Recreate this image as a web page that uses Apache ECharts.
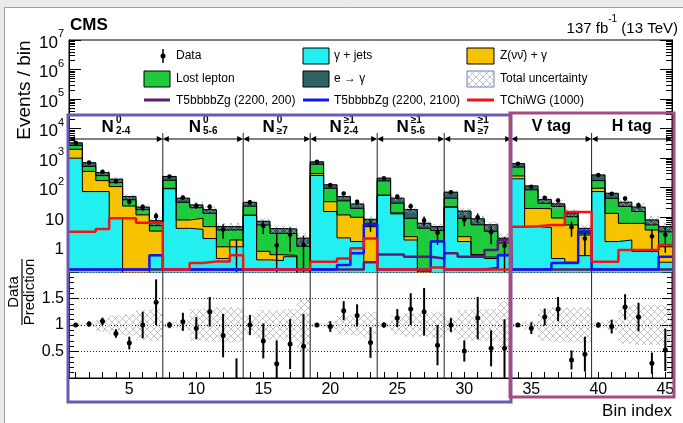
<!DOCTYPE html>
<html>
<head>
<meta charset="utf-8">
<script src="https://cdn.jsdelivr.net/npm/echarts@6.0.0/dist/echarts.min.js"></script>
<style>
html, body { margin: 0; padding: 0; background: #ebebeb; }
#chart { width: 683px; height: 423px; }
</style>
</head>
<body>
<div id="chart"></div>
<script>
// bin index 1..45
const bins = [1,2,3,4,5,6,7,8,9,10,11,12,13,14,15,16,17,18,19,20,21,22,23,24,25,26,27,28,29,30,31,32,33,34,35,36,37,38,39,40,41,42,43,44,45];

// background components (events / bin), stacked bottom -> top
const gammaJets = [1000,74,74,9.2,0.05,0.05,0.5, 92,4.2,3.9,1.9,0.4,1.0, 11.5,0.36,0.34,0.46,0.02, 260,15.6,2,1.5,0.3, 55,13,1.7,0.1,1.5, 22,1.5,0.5,0.4,0.5, 200,4.8,4.5,0.4,0.3,0.5, 74,1.5,1.7,0.7,0.7,0.3];
const zNuNu = [1000,281,100,100,24,12,2.9, 3,3.9,5.3,2.9,0.6,0.7, 0.3,0.34,0.2,0.05,0.02, 40,18,10,8.5,4.5, 1,1,0.5,0.05,0.05, 0.3,0.7,0.05,0.05,0.05, 50,15,15,9,5.2,2.0, 22,12,4.5,5.5,3,0.7];
const lostLepton = [700,170,83,40,15,6,1.8, 83,23.9,11.8,8.8,2.7,2.0, 12,4.8,2.3,2.3,1.0, 320,62,24,10,0.7, 114,16,7,4.1,2.0, 22,6.9,5,2.9,0.8, 250,65,10,14,4.9,0.4, 78,30,17,9.4,1.8,2.2];
const eToGamma = [600,175,68,45,11,4,2.4, 62,12,5,4.4,1.1,1.1, 8,1.8,1.3,1.2,0.9, 130,30,14,8,3, 40,14,9,2.0,1.3, 26,7,3.3,2.2,0.6, 150,30,10,5,3.2,1.3, 96,21,9,6.4,2.6,1.6];

// signal models
const t5Low = [0.1,0.1,0.1,0.1,0.1,0.1,0.1, 0.1,0.1,0.1,0.1,0.1,0.1, 0.1,0.1,0.1,0.1,0.1, 0.1,0.1,0.1,0.1,0.3, 0.55,0.55,0.46,0.46,0.4, 0.6,0.46,0.46,0.78,1.7, 0.1,0.1,0.1,0.1,0.1,0.1, 0.1,0.1,0.1,0.1,0.1,0.1];
const t5High = [0.1,0.1,0.1,0.1,0.1,0.1,0.52, 0.1,0.1,0.1,0.1,0.1,0.1, 0.1,0.1,0.1,0.1,0.1, 0.1,0.1,0.24,0.6,5.8, 0.1,0.1,0.1,0.1,1.5, 0.1,0.1,0.1,0.19,0.52, 0.1,0.1,0.1,0.28,0.28,3.3, 0.1,0.1,0.1,0.1,0.1,0.46];
const tChiWG = [3.2,3.2,4.0,9.2,9.2,6.5,6.5, 0.1,0.1,0.28,0.32,0.32,0.52, 0.1,0.1,0.1,0.1,0.1, 0.31,0.31,0.4,0.9,1.9, 0.1,0.1,0.1,0.1,0.2, 0.1,0.1,0.1,0.1,0.1, 4.8,5.0,5.5,5.5,15,15, 0.31,0.31,0.78,0.78,0.78,1.15];

// data / prediction and its error, total relative uncertainty of prediction
const ratio = [1.0,1.02,1.07,0.84,0.66,1.0,1.43, 1.0,1.06,0.94,1.25,0.8,0, 1.0,0.7,0.27,0.64,0.6, 1.0,0.97,1.27,1.18,0.67, 1.0,1.13,1.3,1.25,0.62, 1.0,0.51,1.13,0.56,0.56, 1.0,0.94,1.15,1.3,0.34,0.45, 1.0,0.97,1.34,1.15,0.28,0.53];
const ratioErr = [0.03,0.05,0.07,0.08,0.12,0.25,0.43, 0.06,0.17,0.21,0.28,0.41,0.37, 0.19,0.33,0.44,0.47,0.61, 0.04,0.1,0.18,0.21,0.29, 0.05,0.17,0.3,0.45,0.38, 0.13,0.2,0.4,0.34,0.55, 0.03,0.11,0.16,0.23,0.18,0.33, 0.05,0.13,0.24,0.27,0.2,0.4];
const totalUnc = [0.03,0.04,0.13,0.18,0.2,0.28,0.3, 0.05,0.1,0.3,0.32,0.33,0.33, 0.18,0.28,0.28,0.3,0.5, 0.04,0.08,0.18,0.2,0.25, 0.05,0.18,0.22,0.22,0.25, 0.15,0.28,0.3,0.3,0.45, 0.04,0.08,0.3,0.33,0.33,0.33, 0.05,0.1,0.35,0.38,0.38,0.38];

// search regions
const regionEdges = [0.5, 7.5, 13.5, 18.5, 23.5, 28.5, 33.5, 39.5, 45.5];
const regionMain = ['N','N','N','N','N','N','V tag','H tag'];
const regionSup = ['0','0','0','\u22651','\u22651','\u22651','',''];
const regionSub = ['2-4','5-6','\u22657','2-4','5-6','\u22657','',''];

const logTicks = [0,1,2,3,4,5,6,7];
const xLabels = [5,10,15,20,25,30,35,40,45];

const Y_MIN = Math.log10(0.14);
const Y_MAX = 7;
const FONT = '"Liberation Sans", Arial, sans-serif';

const compColors = ['#22f0f0', '#f7c300', '#1ecb3c', '#2f6262'];
const comps = [gammaJets, zNuNu, lostLepton, eToGamma];

function toLog(v) { return v > 0 ? Math.log10(v) : Y_MIN - 2; }
function clampLog(v) { return Math.max(Math.log10(v), Math.log10(0.17)); }
function stepData(vals, f) {
    const d = bins.map((b, i) => [b - 0.5, f(vals[i])]);
    d.push([bins[bins.length - 1] + 0.5, f(vals[vals.length - 1])]);
    return d;
}

function hatchPattern(color) {
    const c = document.createElement('canvas');
    c.width = 7; c.height = 7;
    const g = c.getContext('2d');
    g.strokeStyle = color; g.lineWidth = 0.7;
    g.beginPath();
    g.moveTo(0, 0); g.lineTo(7, 7);
    g.moveTo(7, 0); g.lineTo(0, 7);
    g.stroke();
    return { image: c, repeat: 'repeat' };
}
const hatch = hatchPattern('#a8a8a8');

function csRect(cs) { return { x: cs.x, y: cs.y, width: cs.width, height: cs.height }; }

function binRect(fill, stroke) {
    return function (params, api) {
        const p0 = api.coord([api.value(0) - 0.5, api.value(2)]);
        const p1 = api.coord([api.value(0) + 0.5, api.value(1)]);
        const shape = echarts.graphic.clipRectByRect(
            { x: p0[0], y: p0[1], width: p1[0] - p0[0], height: p1[1] - p0[1] }, csRect(params.coordSys));
        if (!shape) return;
        return { type: 'rect', shape: shape, style: { fill: fill, stroke: stroke, lineWidth: stroke ? 0.6 : 0 } };
    };
}

function renderPoint(yFloor, thick, r) {
    return function (params, api) {
        const cs = params.coordSys;
        const x = api.coord([api.value(0), 0])[0];
        const yLo = Math.min(api.coord([0, Math.max(api.value(2), yFloor)])[1], cs.y + cs.height);
        const yHi = Math.max(api.coord([0, api.value(3)])[1], cs.y);
        const children = [{ type: 'line', shape: { x1: x, y1: yLo, x2: x, y2: yHi }, style: { stroke: '#000', lineWidth: thick } }];
        if (api.value(1) > yFloor) {
            const y = api.coord([0, api.value(1)])[1];
            children.push({ type: 'circle', shape: { cx: x, cy: y, r: r }, style: { fill: '#000' } });
        }
        return { type: 'group', children: children };
    };
}

function renderRegion(params, api) {
    const i = params.dataIndex;
    const cs = params.coordSys;
    const xl = api.coord([api.value(0), Y_MAX])[0];
    const xr = api.coord([api.value(1), Y_MAX])[0];
    const ya = cs.y + 99;
    const yl = cs.y + 87;
    const cx = (xl + xr) / 2;
    const children = [
        { type: 'line', shape: { x1: xl + 4, y1: ya, x2: xr - 4, y2: ya }, style: { stroke: '#000', lineWidth: 1 } },
        { type: 'polygon', shape: { points: [[xl, ya], [xl + 6, ya - 3], [xl + 6, ya + 3]] }, style: { fill: '#000' } },
        { type: 'polygon', shape: { points: [[xr, ya], [xr - 6, ya - 3], [xr - 6, ya + 3]] }, style: { fill: '#000' } }
    ];
    if (i < regionMain.length - 1) {
        children.push({ type: 'line', shape: { x1: xr, y1: cs.y + 93, x2: xr, y2: cs.y + cs.height }, style: { stroke: '#222', lineWidth: 1 } });
    }
    if (regionSup[i]) {
        children.push({ type: 'text', x: cx - 2, y: yl, style: { text: regionMain[i], font: 'bold 17px ' + FONT, align: 'right', verticalAlign: 'middle', fill: '#000' } });
        children.push({ type: 'text', x: cx, y: yl - 7, style: { text: regionSup[i], font: 'bold 10px ' + FONT, align: 'left', verticalAlign: 'middle', fill: '#000' } });
        children.push({ type: 'text', x: cx, y: yl + 4, style: { text: regionSub[i], font: 'bold 10px ' + FONT, align: 'left', verticalAlign: 'middle', fill: '#000' } });
    } else {
        children.push({ type: 'text', x: cx, y: yl, style: { text: regionMain[i], font: 'bold 16px ' + FONT, align: 'center', verticalAlign: 'middle', fill: '#000' } });
    }
    return { type: 'group', children: children };
}

function renderSeparator(params, api) {
    const cs = params.coordSys;
    const x = api.coord([api.value(0), 1])[0];
    return { type: 'line', shape: { x1: x, y1: cs.y, x2: x, y2: cs.y + cs.height }, style: { stroke: '#222', lineWidth: 1 } };
}

// stacked histogram
const series = [];
let base = bins.map(() => 0);
const levels = [];
comps.forEach((vals, k) => {
    const top = base.map((b, i) => b + vals[i]);
    const low = base;
    series.push({
        type: 'custom', xAxisIndex: 0, yAxisIndex: 0, renderItem: binRect(compColors[k], compColors[k]),
        data: bins.map((b, i) => [b, toLog(low[i]), toLog(top[i])]), silent: true
    });
    levels.push(top);
    base = top;
});
const total = base;
levels.forEach(lv => {
    series.push({
        type: 'line', xAxisIndex: 0, yAxisIndex: 0, step: 'end', symbol: 'none', silent: true,
        lineStyle: { color: '#000', width: 1 }, data: stepData(lv, toLog)
    });
});
// uncertainty on total prediction
series.push({
    type: 'custom', xAxisIndex: 0, yAxisIndex: 0, renderItem: binRect(hatch, null), silent: true,
    data: bins.map((b, i) => [b, toLog(total[i] * (1 - totalUnc[i])), toLog(total[i] * (1 + totalUnc[i]))])
});
// signals
[[t5Low, '#5e1a72'], [t5High, '#1414f0'], [tChiWG, '#f01414']].forEach(([vals, color]) => {
    series.push({
        type: 'line', xAxisIndex: 0, yAxisIndex: 0, step: 'end', symbol: 'none', silent: true,
        lineStyle: { color: color, width: 2.5 }, data: stepData(vals, clampLog)
    });
});
// data points (upper pad)
series.push({
    type: 'custom', xAxisIndex: 0, yAxisIndex: 0, renderItem: renderPoint(Y_MIN, 1.5, 2.3), silent: true,
    data: bins.map((b, i) => {
        const lo = ratio[i] - ratioErr[i];
        return [b, ratio[i] > 0 ? Math.log10(ratio[i] * total[i]) : -99,
            lo > 0 ? Math.log10(lo * total[i]) : Y_MIN - 2, Math.log10((ratio[i] + ratioErr[i]) * total[i])];
    })
});
// region labels, arrows and separators
series.push({
    type: 'custom', xAxisIndex: 0, yAxisIndex: 0, renderItem: renderRegion, silent: true,
    data: regionMain.map((n, i) => [regionEdges[i], regionEdges[i + 1]])
});
// ratio pad
series.push({
    type: 'custom', xAxisIndex: 1, yAxisIndex: 4, renderItem: binRect(hatch, null), silent: true,
    data: bins.map((b, i) => [b, 1 - totalUnc[i], 1 + totalUnc[i]])
});
series.push({
    type: 'custom', xAxisIndex: 1, yAxisIndex: 4, renderItem: renderSeparator, silent: true,
    data: regionEdges.slice(1, -1).map(e => [e, 1])
});
series.push({
    type: 'custom', xAxisIndex: 1, yAxisIndex: 4, renderItem: renderPoint(0, 2, 2.5), silent: true,
    data: bins.map((b, i) => [b, ratio[i] > 0 ? ratio[i] : -99, Math.max(0, ratio[i] - ratioErr[i]), ratio[i] + ratioErr[i]])
});

const minorLog = [];
for (let n = -1; n < 7; n++) {
    for (let k = 2; k < 10; k++) {
        const v = n + Math.log10(k);
        if (v > Y_MIN && v < Y_MAX) minorLog.push(v);
    }
}

function logAxis(pos, showLabel, ticks, len) {
    return {
        type: 'value', gridIndex: 0, position: pos, min: Y_MIN, max: Y_MAX,
        axisLine: { show: true, lineStyle: { color: '#000', width: 1 } },
        axisTick: { show: true, inside: true, length: len, customValues: ticks, lineStyle: { color: '#000' } },
        axisLabel: {
            show: showLabel, customValues: logTicks, margin: 5,
            formatter: v => v === 0 ? '{b|1}' : v === 1 ? '{b|10}' : '{b|10}{s|' + v + '}',
            rich: {
                b: { fontSize: 17, fontFamily: FONT, color: '#000', lineHeight: 23, verticalAlign: 'bottom' },
                s: { fontSize: 11, fontFamily: FONT, color: '#000', verticalAlign: 'top' }
            }
        },
        splitLine: { show: false }
    };
}

function ratioAxis(pos, showLabel) {
    return {
        type: 'value', gridIndex: 1, position: pos, min: 0, max: 2, interval: 0.5,
        axisLine: { show: true, lineStyle: { color: '#000' } },
        axisTick: { show: true, inside: true, length: 10, lineStyle: { color: '#000' } },
        minorTick: { show: true, splitNumber: 5, length: 5, lineStyle: { color: '#000' } },
        axisLabel: {
            show: showLabel, margin: 5, fontSize: 16, fontFamily: FONT, color: '#000',
            formatter: v => (v === 0 || v === 2) ? '' : String(v)
        },
        splitLine: { show: showLabel, lineStyle: { color: '#222', type: [1, 2], width: 1 } }
    };
}

function binAxis(grid, showLabel) {
    return {
        type: 'value', gridIndex: grid, min: 0.5, max: 45.5,
        axisLine: { show: true, lineStyle: { color: '#000' } },
        axisTick: { show: true, inside: true, length: 6, customValues: bins, lineStyle: { color: '#000' } },
        axisLabel: { show: showLabel, customValues: xLabels, margin: 4, fontSize: 16, fontFamily: FONT, color: '#000' },
        splitLine: { show: false }
    };
}

const chart = echarts.init(document.getElementById('chart'), null, { renderer: 'canvas' });
chart.setOption({
    animation: false,
    backgroundColor: '#ebebeb',
    grid: [
        { left: 69, top: 40, right: 11, height: 232, show: true, borderColor: '#000', borderWidth: 1, backgroundColor: '#fff', outerBoundsMode: 'none', containLabel: false },
        { left: 69, top: 272, right: 11, height: 106, show: true, borderColor: '#000', borderWidth: 1, backgroundColor: '#fff', outerBoundsMode: 'none', containLabel: false }
    ],
    xAxis: [binAxis(0, false), binAxis(1, true)],
    yAxis: [
        logAxis('left', true, logTicks, 12),
        logAxis('left', false, minorLog, 6),
        logAxis('right', false, logTicks, 12),
        logAxis('right', false, minorLog, 6),
        ratioAxis('left', true),
        ratioAxis('right', false)
    ],
    series: series,
    graphic: [
        { type: 'rect', z: -10, shape: { x: 4.5, y: 7.5, width: 690, height: 430 }, style: { fill: '#fff', stroke: '#a0a0a0', lineWidth: 1 } },
        { type: 'text', x: 70, y: 25, style: { text: 'CMS', font: 'bold 17px ' + FONT, fill: '#000', verticalAlign: 'middle' } },
        {
            type: 'text', x: 678, y: 25, style: {
                text: '{a|137 fb}{s|-1}{a| (13 TeV)}', align: 'right', verticalAlign: 'middle',
                rich: { a: { fontSize: 15, fontFamily: FONT, color: '#000', lineHeight: 22, verticalAlign: 'bottom' }, s: { fontSize: 10, fontFamily: FONT, color: '#000', verticalAlign: 'top' } }
            }
        },
        { type: 'text', x: 25, y: 90, rotation: Math.PI / 2, style: { text: 'Events / bin', font: '19px ' + FONT, fill: '#000', align: 'center', verticalAlign: 'middle' } },
        {
            type: 'group', x: 22, y: 292, rotation: Math.PI / 2, children: [
                { type: 'text', x: 0, y: -8, style: { text: 'Data', font: '15px ' + FONT, fill: '#000', align: 'center', verticalAlign: 'middle' } },
                { type: 'line', shape: { x1: -33, y1: 0, x2: 33, y2: 0 }, style: { stroke: '#000', lineWidth: 1.2 } },
                { type: 'text', x: 0, y: 8, style: { text: 'Prediction', font: '15px ' + FONT, fill: '#000', align: 'center', verticalAlign: 'middle' } }
            ]
        },
        { type: 'text', x: 672, y: 411, style: { text: 'Bin index', font: '17px ' + FONT, fill: '#000', align: 'right', verticalAlign: 'middle' } },
        // legend
        { type: 'line', shape: { x1: 163, y1: 49, x2: 163, y2: 63 }, style: { stroke: '#000', lineWidth: 1.5 } },
        { type: 'circle', shape: { cx: 163, cy: 56, r: 2.5 }, style: { fill: '#000' } },
        { type: 'text', x: 176, y: 56, style: { text: 'Data', font: '12px ' + FONT, fill: '#000', verticalAlign: 'middle' } },
        { type: 'rect', shape: { x: 303, y: 48, width: 26, height: 16 }, style: { fill: compColors[0], stroke: '#000', lineWidth: 1 } },
        { type: 'text', x: 334, y: 56, style: { text: '\u03B3 + jets', font: '12px ' + FONT, fill: '#000', verticalAlign: 'middle' } },
        { type: 'rect', shape: { x: 467, y: 48, width: 27, height: 16 }, style: { fill: compColors[1], stroke: '#000', lineWidth: 1 } },
        { type: 'text', x: 500, y: 56, style: { text: 'Z(\u03BD\u03BD\u0304) + \u03B3', font: '12px ' + FONT, fill: '#000', verticalAlign: 'middle' } },
        { type: 'rect', shape: { x: 144, y: 71, width: 26, height: 16 }, style: { fill: compColors[2], stroke: '#000', lineWidth: 1 } },
        { type: 'text', x: 176, y: 79, style: { text: 'Lost lepton', font: '12px ' + FONT, fill: '#000', verticalAlign: 'middle' } },
        { type: 'rect', shape: { x: 303, y: 71, width: 26, height: 16 }, style: { fill: compColors[3], stroke: '#000', lineWidth: 1 } },
        { type: 'text', x: 334, y: 79, style: { text: 'e \u2192 \u03B3', font: '12px ' + FONT, fill: '#000', verticalAlign: 'middle' } },
        { type: 'rect', shape: { x: 467, y: 71, width: 27, height: 16 }, style: { fill: hatch, stroke: '#6f7fc4', lineWidth: 1 } },
        { type: 'text', x: 500, y: 79, style: { text: 'Total uncertainty', font: '12px ' + FONT, fill: '#000', verticalAlign: 'middle' } },
        { type: 'line', shape: { x1: 144, y1: 100, x2: 170, y2: 100 }, style: { stroke: '#5e1a72', lineWidth: 3 } },
        { type: 'text', x: 176, y: 101, style: { text: 'T5bbbbZg (2200, 200)', font: '12px ' + FONT, fill: '#000', verticalAlign: 'middle' } },
        { type: 'line', shape: { x1: 303, y1: 100, x2: 329, y2: 100 }, style: { stroke: '#1414f0', lineWidth: 3 } },
        { type: 'text', x: 334, y: 101, style: { text: 'T5bbbbZg (2200, 2100)', font: '12px ' + FONT, fill: '#000', verticalAlign: 'middle' } },
        { type: 'line', shape: { x1: 467, y1: 100, x2: 494, y2: 100 }, style: { stroke: '#f01414', lineWidth: 3 } },
        { type: 'text', x: 500, y: 101, style: { text: 'TChiWG (1000)', font: '12px ' + FONT, fill: '#000', verticalAlign: 'middle' } },
        // highlight boxes
        { type: 'rect', z: 100, shape: { x: 68, y: 115, width: 443, height: 287 }, style: { fill: 'none', stroke: '#6a5ab4', lineWidth: 3 } },
        { type: 'rect', z: 100, shape: { x: 510, y: 113, width: 164, height: 284 }, style: { fill: 'none', stroke: '#a24f80', lineWidth: 3 } }
    ]
});
</script>
</body>
</html>
